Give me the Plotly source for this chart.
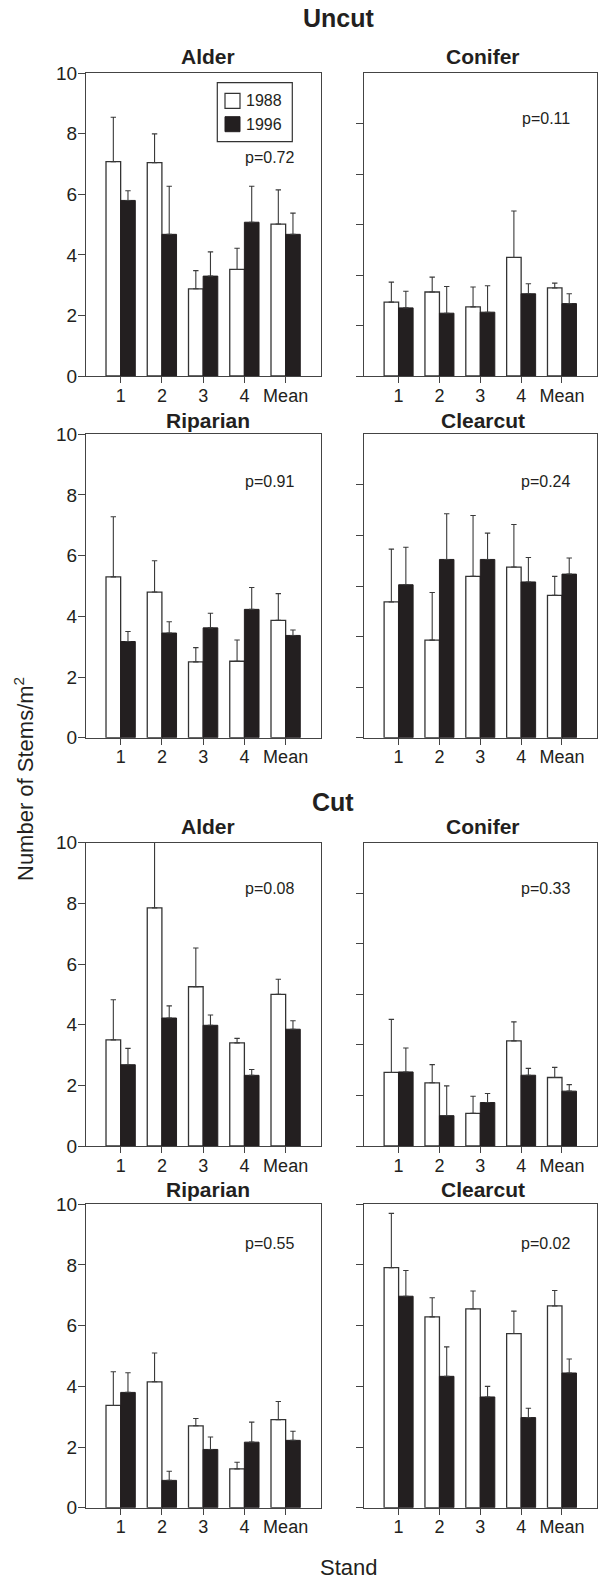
import plotly.graph_objects as go

# ---------------- data ----------------
stands = ["1", "2", "3", "4", "Mean"]
years = ["1988", "1996"]

# Uncut
uncut_alder_1988 = [7.08, 7.05, 2.88, 3.52, 5.02]
uncut_alder_1988_se = [1.47, 0.95, 0.60, 0.70, 1.13]
uncut_alder_1996 = [5.80, 4.68, 3.30, 5.08, 4.68]
uncut_alder_1996_se = [0.32, 1.59, 0.80, 1.19, 0.70]

uncut_conifer_1988 = [2.93, 3.33, 2.74, 4.70, 3.49]
uncut_conifer_1988_se = [0.79, 0.59, 0.79, 1.84, 0.19]
uncut_conifer_1996 = [2.70, 2.49, 2.53, 3.26, 2.87]
uncut_conifer_1996_se = [0.66, 1.06, 1.05, 0.40, 0.39]

uncut_riparian_1988 = [5.30, 4.80, 2.50, 2.52, 3.87]
uncut_riparian_1988_se = [1.98, 1.03, 0.47, 0.70, 0.88]
uncut_riparian_1996 = [3.17, 3.45, 3.62, 4.23, 3.37]
uncut_riparian_1996_se = [0.33, 0.37, 0.48, 0.72, 0.18]

uncut_clearcut_1988 = [5.37, 3.86, 6.38, 6.75, 5.63]
uncut_clearcut_1988_se = [2.09, 1.88, 2.41, 1.68, 0.75]
uncut_clearcut_1996 = [6.05, 7.05, 7.05, 6.16, 6.47]
uncut_clearcut_1996_se = [1.48, 1.81, 1.04, 0.97, 0.64]

# Cut
cut_alder_1988 = [3.50, 7.85, 5.25, 3.40, 5.00]
cut_alder_1988_se = [1.32, 2.65, 1.28, 0.15, 0.50]
cut_alder_1996 = [2.68, 4.22, 3.98, 2.33, 3.85]
cut_alder_1996_se = [0.54, 0.40, 0.34, 0.19, 0.28]

cut_conifer_1988 = [2.91, 2.50, 1.29, 4.16, 2.71]
cut_conifer_1988_se = [2.10, 0.72, 0.68, 0.75, 0.40]
cut_conifer_1996 = [2.93, 1.20, 1.72, 2.80, 2.17]
cut_conifer_1996_se = [0.95, 1.18, 0.36, 0.27, 0.26]

cut_riparian_1988 = [3.37, 4.15, 2.70, 1.28, 2.90]
cut_riparian_1988_se = [1.11, 0.95, 0.24, 0.22, 0.60]
cut_riparian_1996 = [3.80, 0.90, 1.92, 2.16, 2.22]
cut_riparian_1996_se = [0.65, 0.30, 0.41, 0.66, 0.30]

cut_clearcut_1988 = [7.91, 6.29, 6.55, 5.74, 6.65]
cut_clearcut_1988_se = [1.79, 0.63, 0.59, 0.74, 0.51]
cut_clearcut_1996 = [6.97, 4.33, 3.65, 2.97, 4.44]
cut_clearcut_1996_se = [0.85, 0.97, 0.35, 0.31, 0.46]

panel_titles = ["Alder", "Conifer", "Riparian", "Clearcut",
                "Alder", "Conifer", "Riparian", "Clearcut"]
p_values = ["p=0.72", "p=0.11", "p=0.91", "p=0.24",
            "p=0.08", "p=0.33", "p=0.55", "p=0.02"]
y_maxes = [10, 12, 10, 12, 10, 12, 10, 10]

# ---------------- layout geometry (pixels) ----------------
W, H = 601, 1579
FONT = "Liberation Sans, Arial, Helvetica, sans-serif"
INK = "#231f20"
AX = "#444444"

cols = [(86, 320.7), (364.3, 596.7)]
rows = [(73.3, 376.0), (434.3, 737.7), (842.7, 1146.0), (1204.3, 1507.7)]
title_y = [56.7, 420.0, 826.0, 1189.5]
title_x = [207.5, 482.5]
p_y = [[157.3, 119.0], [481.7, 481.7], [888.3, 888.3], [1243.3, 1243.3]]
p_x = [296.0, 571.7]


def px(x):
    return x / W


def py(y):
    return 1 - y / H


series = [
    (uncut_alder_1988, uncut_alder_1988_se, uncut_alder_1996, uncut_alder_1996_se),
    (uncut_conifer_1988, uncut_conifer_1988_se, uncut_conifer_1996, uncut_conifer_1996_se),
    (uncut_riparian_1988, uncut_riparian_1988_se, uncut_riparian_1996, uncut_riparian_1996_se),
    (uncut_clearcut_1988, uncut_clearcut_1988_se, uncut_clearcut_1996, uncut_clearcut_1996_se),
    (cut_alder_1988, cut_alder_1988_se, cut_alder_1996, cut_alder_1996_se),
    (cut_conifer_1988, cut_conifer_1988_se, cut_conifer_1996, cut_conifer_1996_se),
    (cut_riparian_1988, cut_riparian_1988_se, cut_riparian_1996, cut_riparian_1996_se),
    (cut_clearcut_1988, cut_clearcut_1988_se, cut_clearcut_1996, cut_clearcut_1996_se),
]

fig = go.Figure()
layout = {}
annotations = []
BW = 0.355
xpos = list(range(len(stands)))

for i, (v88, e88, v96, e96) in enumerate(series):
    r, c = divmod(i, 2)
    n = i + 1
    xa = "x" if n == 1 else f"x{n}"
    ya = "y" if n == 1 else f"y{n}"
    fig.add_trace(go.Bar(
        x=xpos, y=v88, xaxis=xa, yaxis=ya, name=years[0], showlegend=False,
        offset=-BW, width=BW,
        marker=dict(color="white", line=dict(color="#333333", width=1.3)),
        error_y=dict(type="data", symmetric=False, array=e88, arrayminus=[0] * 5,
                     color="#3a3a3a", thickness=1.1, width=2.7),
    ))
    fig.add_trace(go.Bar(
        x=xpos, y=v96, xaxis=xa, yaxis=ya, name=years[1], showlegend=False,
        offset=0, width=BW,
        marker=dict(color=INK, line=dict(color=INK, width=1)),
        error_y=dict(type="data", symmetric=False, array=e96, arrayminus=[0] * 5,
                     color="#3a3a3a", thickness=1.1, width=2.7),
    ))
    x0, x1 = cols[c]
    yt, yb = rows[r]
    xkey = "xaxis" if n == 1 else f"xaxis{n}"
    ykey = "yaxis" if n == 1 else f"yaxis{n}"
    layout[xkey] = dict(
        domain=[px(x0), px(x1)], anchor=ya, range=[-0.84, 4.85],
        tickmode="array", tickvals=xpos, ticktext=stands,
        ticks="outside", ticklen=6, tickwidth=1.2, tickcolor=AX,
        ticklabelstandoff=-3,
        showline=True, linecolor=AX, linewidth=1.2, mirror=True,
        showgrid=False, zeroline=False, fixedrange=True, automargin=False,
        tickfont=dict(family=FONT, size=18, color=INK),
    )
    layout[ykey] = dict(
        domain=[py(yb), py(yt)], anchor=xa, range=[0, y_maxes[i]],
        tickmode="array", tickvals=list(range(0, 11, 2)),
        ticks="outside", ticklen=7, tickwidth=1.2, tickcolor=AX,
        ticklabelstandoff=-3,
        showticklabels=(c == 0),
        showline=True, linecolor=AX, linewidth=1.2, mirror=True,
        showgrid=False, zeroline=False, fixedrange=True, automargin=False,
        tickfont=dict(family=FONT, size=19, color=INK),
    )
    annotations.append(dict(
        text=f"<b>{panel_titles[i]}</b>", xref="paper", yref="paper",
        x=px(title_x[c]), y=py(title_y[r]), xanchor="center", yanchor="middle",
        showarrow=False, font=dict(family=FONT, size=21, color=INK)))
    annotations.append(dict(
        text=p_values[i], xref="paper", yref="paper",
        x=px(p_x[c]), y=py(p_y[r][c]), xanchor="right", yanchor="middle",
        showarrow=False, font=dict(family=FONT, size=16, color=INK)))

# group titles
annotations.append(dict(text="<b>Uncut</b>", xref="paper", yref="paper",
                        x=px(339), y=py(18), xanchor="center", yanchor="middle",
                        showarrow=False, font=dict(family=FONT, size=25, color=INK)))
annotations.append(dict(text="<b>Cut</b>", xref="paper", yref="paper",
                        x=px(333), y=py(801.7), xanchor="center", yanchor="middle",
                        showarrow=False, font=dict(family=FONT, size=25, color=INK)))
# axis titles
annotations.append(dict(text="Number of Stems/m<sup>2</sup>", xref="paper", yref="paper",
                        x=px(24), y=py(779), xanchor="center", yanchor="middle",
                        textangle=-90, showarrow=False,
                        font=dict(family=FONT, size=22, color=INK)))
annotations.append(dict(text="Stand", xref="paper", yref="paper",
                        x=px(349), y=py(1567), xanchor="center", yanchor="middle",
                        showarrow=False, font=dict(family=FONT, size=22, color=INK)))

# legend (drawn inside the first panel)
shapes = [
    dict(type="rect", xref="paper", yref="paper",
         x0=px(217.3), x1=px(292.3), y0=py(141.7), y1=py(82.7),
         line=dict(color="#333333", width=1.2), fillcolor="white"),
    dict(type="rect", xref="paper", yref="paper",
         x0=px(225), x1=px(240), y0=py(108.3), y1=py(93.3),
         line=dict(color="#333333", width=1.2), fillcolor="white"),
    dict(type="rect", xref="paper", yref="paper",
         x0=px(225), x1=px(240), y0=py(131.7), y1=py(116.7),
         line=dict(color=INK, width=1), fillcolor=INK),
]
annotations.append(dict(text=years[0], xref="paper", yref="paper",
                        x=px(243.5), y=py(100.5), xanchor="left", yanchor="middle",
                        showarrow=False, font=dict(family=FONT, size=16, color=INK)))
annotations.append(dict(text=years[1], xref="paper", yref="paper",
                        x=px(243.5), y=py(124.5), xanchor="left", yanchor="middle",
                        showarrow=False, font=dict(family=FONT, size=16, color=INK)))

fig.update_layout(
    width=W, height=H, margin=dict(l=0, r=0, t=0, b=0, autoexpand=False),
    paper_bgcolor="white", plot_bgcolor="white",
    barmode="overlay", showlegend=False,
    annotations=annotations, shapes=shapes,
    font=dict(family=FONT, color=INK),
    **layout,
)

fig.write_html(
    "out.html",
    config={"displayModeBar": False},
    post_script=("document.documentElement.style.margin='0';"
                 "document.body.style.margin='0';"
                 "document.body.style.padding='0';"
                 "document.body.style.overflow='hidden';"),
)
